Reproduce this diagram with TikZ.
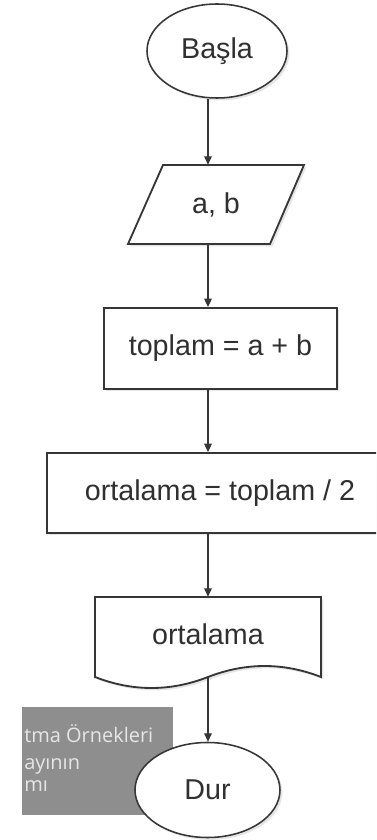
\documentclass[tikz,border=0pt]{standalone}
\usepackage{fontspec}
\setmainfont{Liberation Sans}
\newfontfamily\wmfont{Open Sans}
\usetikzlibrary{shapes.geometric,arrows.meta,shadows}

\definecolor{edge}{HTML}{363636}
\definecolor{ink}{HTML}{303030}
\definecolor{wmgray}{HTML}{8E8E8E}
\definecolor{wmtext}{HTML}{E6E6E6}

\begin{document}
\begin{tikzpicture}[
	shade/.style={drop shadow={opacity=0.2,shadow xshift=0.06cm,shadow yshift=-0.06cm}},
	term/.style={ellipse,draw=edge,line width=1.1pt,fill=white,shade,inner sep=0pt},
	procbox/.style={rectangle,draw=edge,line width=1.3pt,fill=white,shade,inner sep=0pt},
	outline/.style={draw=edge,line width=1.3pt,fill=white,shade},
	flow/.style={draw=edge,line width=0.9pt,-{Triangle[width=0.19cm,length=0.21cm]}},
	txt/.style={text=ink,font=\fontsize{20.4}{24}\selectfont},
	wm/.style={text=wmtext,font=\wmfont\fontsize{14.2}{16}\selectfont,inner sep=0pt}
]
	\useasboundingbox (0,0) rectangle (9.4,21);
	\clip (0,0) rectangle (9.4,21);
	\fill[white] (0,0) rectangle (9.4,21);
	\coordinate (axis) at (5.2,0);

	%START
	\node[term,txt,minimum width=3.5cm,minimum height=2.35cm] (basla) at (5.425,19.725) {Başla};

	%INPUT
	\draw[outline] (3.2,14.9)--(4.075,16.875)--(7.6,16.875)--(6.75,14.9)--cycle;
	\node[txt,minimum height=1.975cm,inner sep=0pt] (girdi) at (5.4,15.8875) {a, b};

	%PROCESS
	\node[procbox,txt,minimum width=5.825cm,minimum height=2.025cm] (toplam) at (5.5125,12.2875) {toplam = a + b};
	\node[procbox,txt,minimum width=8.65cm,minimum height=2cm] (ortalama) at (5.5,8.675) {ortalama = toplam / 2};

	%OUTPUT
	\draw[outline] (2.375,6.075) -- (8.025,6.075) -- (8.025,4.075) .. controls (7.0833,4.4417) and (6.1417,4.4417) .. (5.2,4.075) .. controls (4.2583,3.7083) and (3.3167,3.7083) .. (2.375,4.075) -- cycle;
	\node[txt,minimum height=1.85cm,inner sep=0pt] (cikti) at (5.2,5.15) {ortalama};
	\coordinate (cikti alt) at (5.2,4.075);

	%OVERLAY
	\fill[wmgray] (0.55,0.625) rectangle (4.325,3.325);
	\node[wm,anchor=base west] (wm1) at (0.6,2.425) {tma Örnekleri};
	\node[wm,anchor=base west] (wm2) at (0.6,1.775) {ayının};
	\node[wm,anchor=base west] (wm3) at (0.6,1.2) {mı};

	%END
	\node[term,txt,minimum width=3.625cm,minimum height=2.375cm] (dur) at (5.1875,1.25) {Dur};

	%ARROWS
	\draw[flow] (axis |- basla.south) -- (axis |- girdi.north);
	\draw[flow] (axis |- girdi.south) -- (axis |- toplam.north);
	\draw[flow] (axis |- toplam.south) -- (axis |- ortalama.north);
	\draw[flow] (axis |- ortalama.south) -- (axis |- cikti.north);
	\draw[flow] (cikti alt) -- (axis |- dur.north);
\end{tikzpicture}
\end{document}
